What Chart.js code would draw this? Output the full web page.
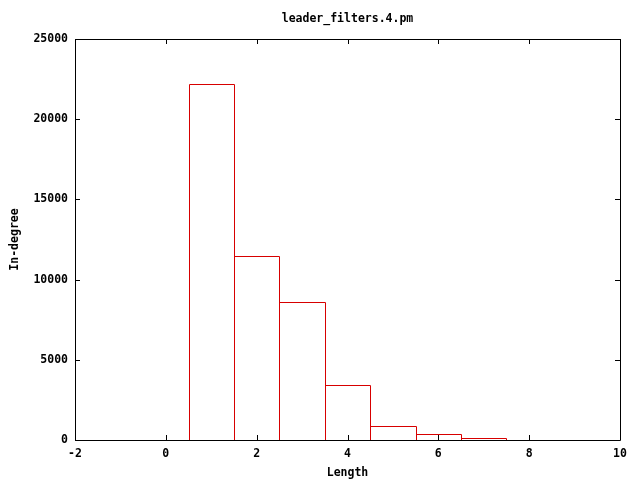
<!DOCTYPE html>
<html>
<head>
<meta charset="utf-8">
<script src="https://cdn.jsdelivr.net/npm/chart.js@4/dist/chart.umd.min.js"></script>
<style>
  html, body { margin: 0; padding: 0; background: #fff; }
  #wrap { width: 640px; height: 480px; }
</style>
</head>
<body>
<div id="wrap"><canvas id="histChart" width="640" height="480"></canvas></div>
<script>
// --- DATA ---
const chartTitle = 'leader_filters.4.pm';
const lengths = [1, 2, 3, 4, 5, 6, 7];
const inDegree = [22200, 11450, 8600, 3420, 870, 380, 120];
const xTicks = [-2, 0, 2, 4, 6, 8, 10];
const yTicks = [0, 5000, 10000, 15000, 20000, 25000];

const FONT = 'bold 11.5px "DejaVu Sans Mono", "Liberation Mono", monospace';
const BAR_RED = 'rgb(215,0,0)';

// outline boxes: stroke each bar element as a crisp 1px rect so shared edges stay single
const boxPlugin = {
    id: 'boxes',
    afterDatasetsDraw(chart) {
        const ctx = chart.ctx;
        const meta = chart.getDatasetMeta(0);
        ctx.save();
        ctx.strokeStyle = BAR_RED;
        ctx.lineWidth = 1;
        ctx.beginPath();
        meta.data.forEach(bar => {
            const l = Math.round(bar.x - bar.width / 2) + 0.5;
            const r = Math.round(bar.x + bar.width / 2) + 0.5;
            const t = Math.round(bar.y) + 0.5;
            const b = Math.round(bar.base) + 0.5;
            ctx.moveTo(l, b); ctx.lineTo(l, t); ctx.lineTo(r, t); ctx.lineTo(r, b);
        });
        ctx.stroke();
        ctx.restore();
    }
};

// frame, inward ticks (mirrored) and title, gnuplot style
const framePlugin = {
    id: 'frame',
    afterDatasetsDraw(chart) {
        const ctx = chart.ctx;
        const a = chart.chartArea;
        const xs = chart.scales.x, ys = chart.scales.y;
        ctx.save();
        ctx.strokeStyle = '#000';
        ctx.lineWidth = 1;
        ctx.beginPath();
        ctx.rect(Math.round(a.left) + 0.5, Math.round(a.top) + 0.5,
                 Math.round(a.right - a.left), Math.round(a.bottom - a.top));
        const tl = 5;
        xTicks.forEach(v => {
            const px = Math.round(xs.getPixelForValue(v)) + 0.5;
            ctx.moveTo(px, a.bottom); ctx.lineTo(px, a.bottom - tl);
            ctx.moveTo(px, a.top); ctx.lineTo(px, a.top + tl);
        });
        yTicks.forEach(v => {
            const py = Math.round(ys.getPixelForValue(v)) + 0.5;
            ctx.moveTo(a.left, py); ctx.lineTo(a.left + tl, py);
            ctx.moveTo(a.right, py); ctx.lineTo(a.right - tl, py);
        });
        ctx.stroke();

        ctx.fillStyle = '#000';
        ctx.font = FONT;
        ctx.textAlign = 'center';
        ctx.textBaseline = 'middle';
        ctx.fillText(chartTitle, (a.left + a.right) / 2, 19);
        ctx.restore();
    }
};

const ctx = document.getElementById('histChart').getContext('2d');
const myChart = new Chart(ctx, {
    type: 'bar',
    data: {
        datasets: [{
            data: lengths.map((x, i) => ({ x: x, y: inDegree[i] })),
            backgroundColor: 'rgba(0,0,0,0)',
            borderWidth: 0,
            barPercentage: 1,
            categoryPercentage: 1
        }]
    },
    options: {
        responsive: false,
        animation: false,
        devicePixelRatio: 1,
        layout: { padding: { top: 39, right: 20, left: 0, bottom: 0 } },
        plugins: { legend: { display: false }, tooltip: { enabled: false }, title: { display: false } },
        scales: {
            x: {
                type: 'linear',
                offset: false,
                min: -2, max: 10,
                afterBuildTicks: s => { s.ticks = xTicks.map(v => ({ value: v })); },
                afterFit: s => { s.height = 40; },
                grid: { display: false, drawTicks: false },
                border: { display: false },
                ticks: { color: '#000', font: { family: '"DejaVu Sans Mono"', size: 11.5, weight: 'bold' }, padding: 7, maxRotation: 0 },
                title: { display: true, text: 'Length', color: '#000',
                         font: { family: '"DejaVu Sans Mono"', size: 11.5, weight: 'bold' }, padding: { top: 0, bottom: 0 } }
            },
            y: {
                min: 0, max: 25000,
                afterBuildTicks: s => { s.ticks = yTicks.map(v => ({ value: v })); },
                afterFit: s => { s.width = 75; },
                grid: { display: false, drawTicks: false },
                border: { display: false },
                ticks: { color: '#000', font: { family: '"DejaVu Sans Mono"', size: 11.5, weight: 'bold' }, padding: 7,
                         callback: v => String(v) },
                title: { display: true, text: 'In-degree', color: '#000',
                         font: { family: '"DejaVu Sans Mono"', size: 11.5, weight: 'bold' }, padding: { top: 8, bottom: 0 } }
            }
        }
    },
    plugins: [boxPlugin, framePlugin]
});
</script>
</body>
</html>
